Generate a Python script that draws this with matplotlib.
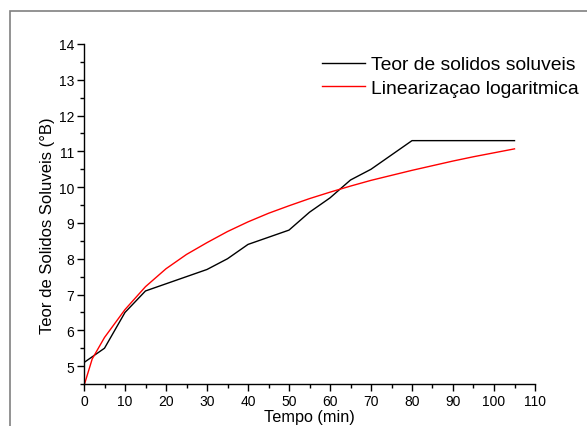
import matplotlib.pyplot as plt
from matplotlib.patches import Rectangle
from matplotlib.ticker import MultipleLocator

plt.rcParams['font.family'] = ['Liberation Sans', 'DejaVu Sans']

# measured data
tempo = [0, 5, 10, 15, 20, 25, 30, 35, 40, 45, 50, 55, 60, 65, 70, 75, 80,
         85, 90, 95, 100, 105]
solidos = [5.1, 5.5, 6.5, 7.1, 7.3, 7.5, 7.7, 8.0, 8.4, 8.6, 8.8, 9.3, 9.7,
           10.2, 10.5, 10.9, 11.3, 11.3, 11.3, 11.3, 11.3, 11.3]

# logarithmic fit
tempo_fit = [0, 2, 5, 10, 15, 20, 25, 30, 35, 40, 45, 50, 55, 60, 65, 70,
             75, 80, 85, 90, 95, 100, 105]
ajuste = [4.45, 5.2, 5.8, 6.58, 7.22, 7.72, 8.12, 8.45, 8.76, 9.03, 9.27,
          9.48, 9.68, 9.86, 10.03, 10.19, 10.33, 10.47, 10.6, 10.73, 10.85,
          10.96, 11.07]

fig = plt.figure(figsize=(5.87, 4.27), dpi=100)
ax = fig.add_axes([84 / 587, 42 / 427, 451 / 587, 340 / 427])

ax.plot(tempo, solidos, color='black', lw=1.0, label='Teor de solidos soluveis')
ax.plot(tempo_fit, ajuste, color='red', lw=1.0, label='Linearizaçao logaritmica')

ax.set_xlim(0, 110)
ax.set_ylim(4.5, 14)
ax.xaxis.set_major_locator(MultipleLocator(10))
ax.xaxis.set_minor_locator(MultipleLocator(5))
ax.set_yticks(range(5, 15))
ax.yaxis.set_minor_locator(MultipleLocator(0.5))

for side in ('top', 'right'):
    ax.spines[side].set_visible(False)
for side in ('left', 'bottom'):
    ax.spines[side].set_linewidth(1.0)
ax.tick_params(which='major', direction='out', length=5, width=1, labelsize=10, pad=2)
ax.tick_params(which='minor', direction='out', length=3, width=1)

ax.set_xlabel('Tempo (min)', fontsize=11.7, labelpad=1)
ax.set_ylabel('Teor de Solidos Soluveis (°B)', fontsize=12)
ax.yaxis.set_label_coords(-0.064, 0.468)

ax.legend(loc='upper left', bbox_to_anchor=(0.528, 0.965), frameon=False,
          fontsize=13.9, borderpad=0, borderaxespad=0, handlelength=2.2,
          handletextpad=0.35, labelspacing=0.3)

# outer frame of the original figure
fig.patches.append(Rectangle((10 / 587, -0.2), 1.2, 0.2 + 415 / 427,
                             transform=fig.transFigure, fill=False,
                             edgecolor='#808080', lw=1.2, clip_on=False))

fig.savefig('out.png', dpi=100)
